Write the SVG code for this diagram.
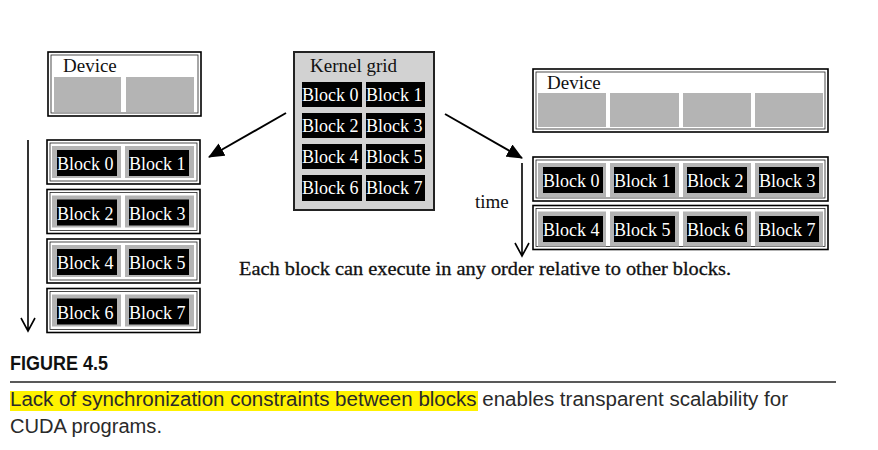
<svg xmlns="http://www.w3.org/2000/svg" width="878" height="450" viewBox="0 0 878 450">
<style>
.frame{fill:#fff;stroke:#000;stroke-width:1.6}
.inner{fill:none;stroke:#222;stroke-width:0.8}
.cell{fill:#b4b4b4}
.blk{fill:#000}
.bt{font-family:"Liberation Serif","Times New Roman",serif;font-size:18px;fill:#fff}
.lbl{font-family:"Liberation Serif","Times New Roman",serif;font-size:19px;fill:#111}
.cap{font-family:"Liberation Sans Narrow","Liberation Sans",Arial,sans-serif;font-size:20px;fill:#2a2a2a}
.conn{stroke:#000;stroke-width:2;fill:none}
.time{stroke:#000;stroke-width:1.6;fill:none}
</style>
<defs>
<marker id="ah" markerWidth="16" markerHeight="14" refX="15" refY="7" orient="auto" markerUnits="userSpaceOnUse">
<path d="M0,0 L16,7 L0,14 Z" fill="#000"/>
</marker>
</defs>

<!-- Left device -->
<g id="left-device">
<rect class="frame" x="48" y="52" width="153" height="64"/>
<rect class="inner" x="51" y="55" width="147" height="58"/>
<text class="lbl" x="63" y="72">Device</text>
<rect class="cell" x="54" y="77" width="67" height="35"/>
<rect class="cell" x="126" y="77" width="68" height="35"/>
</g>

<!-- Left rows -->
<g id="left-row-1">
<rect class="frame" x="47" y="140" width="153" height="44"/>
<rect class="inner" x="50" y="143" width="147" height="38"/>
<rect class="cell" x="52" y="146" width="69" height="32"/>
<rect class="cell" x="125" y="146" width="69" height="32"/>
<rect class="blk" x="57" y="150" width="60" height="26"/>
<rect class="blk" x="129" y="150" width="60" height="26"/>
<text class="bt" x="57" y="170">Block 0</text>
<text class="bt" x="129" y="170">Block 1</text>
</g>
<g id="left-row-2">
<rect class="frame" x="47" y="189.5" width="153" height="44"/>
<rect class="inner" x="50" y="192.5" width="147" height="38"/>
<rect class="cell" x="52" y="195.5" width="69" height="32"/>
<rect class="cell" x="125" y="195.5" width="69" height="32"/>
<rect class="blk" x="57" y="199.5" width="60" height="26"/>
<rect class="blk" x="129" y="199.5" width="60" height="26"/>
<text class="bt" x="57" y="219.5">Block 2</text>
<text class="bt" x="129" y="219.5">Block 3</text>
</g>
<g id="left-row-3">
<rect class="frame" x="47" y="239" width="153" height="44"/>
<rect class="inner" x="50" y="242" width="147" height="38"/>
<rect class="cell" x="52" y="245" width="69" height="32"/>
<rect class="cell" x="125" y="245" width="69" height="32"/>
<rect class="blk" x="57" y="249" width="60" height="26"/>
<rect class="blk" x="129" y="249" width="60" height="26"/>
<text class="bt" x="57" y="269">Block 4</text>
<text class="bt" x="129" y="269">Block 5</text>
</g>
<g id="left-row-4">
<rect class="frame" x="47" y="288.5" width="153" height="44"/>
<rect class="inner" x="50" y="291.5" width="147" height="38"/>
<rect class="cell" x="52" y="294.5" width="69" height="32"/>
<rect class="cell" x="125" y="294.5" width="69" height="32"/>
<rect class="blk" x="57" y="298.5" width="60" height="26"/>
<rect class="blk" x="129" y="298.5" width="60" height="26"/>
<text class="bt" x="57" y="318.5">Block 6</text>
<text class="bt" x="129" y="318.5">Block 7</text>
</g>

<!-- Kernel grid -->
<g id="kernel-grid">
<rect x="294" y="52" width="140" height="158" fill="#d2d2d2" stroke="#222" stroke-width="2"/>
<text class="lbl" x="310" y="72">Kernel grid</text>
<rect class="blk" x="302" y="82" width="60" height="25"/>
<rect class="blk" x="366" y="82" width="59" height="25"/>
<rect class="blk" x="302" y="113" width="60" height="25"/>
<rect class="blk" x="366" y="113" width="59" height="25"/>
<rect class="blk" x="302" y="144" width="60" height="25"/>
<rect class="blk" x="366" y="144" width="59" height="25"/>
<rect class="blk" x="302" y="175" width="60" height="26"/>
<rect class="blk" x="366" y="175" width="59" height="26"/>
<text class="bt" x="302" y="101">Block 0</text>
<text class="bt" x="366" y="101">Block 1</text>
<text class="bt" x="302" y="132">Block 2</text>
<text class="bt" x="366" y="132">Block 3</text>
<text class="bt" x="302" y="163">Block 4</text>
<text class="bt" x="366" y="163">Block 5</text>
<text class="bt" x="302" y="194">Block 6</text>
<text class="bt" x="366" y="194">Block 7</text>
</g>

<!-- Right device -->
<g id="right-device">
<rect class="frame" x="533" y="69" width="295" height="63"/>
<rect class="inner" x="536" y="72" width="289" height="57"/>
<text class="lbl" x="547" y="89">Device</text>
<rect class="cell" x="538" y="93" width="68" height="34"/>
<rect class="cell" x="610" y="93" width="69" height="34"/>
<rect class="cell" x="683" y="93" width="68" height="34"/>
<rect class="cell" x="755" y="93" width="68" height="34"/>
</g>

<g id="right-row-1">
<rect class="frame" x="533" y="157" width="295" height="44"/>
<rect class="inner" x="536" y="160" width="289" height="38"/>
<rect class="cell" x="538" y="163" width="68" height="34"/>
<rect class="cell" x="610" y="163" width="69" height="34"/>
<rect class="cell" x="683" y="163" width="68" height="34"/>
<rect class="cell" x="755" y="163" width="68" height="34"/>
<rect class="blk" x="543" y="167" width="60" height="26"/>
<rect class="blk" x="614" y="167" width="61" height="26"/>
<rect class="blk" x="687" y="167" width="60" height="26"/>
<rect class="blk" x="759" y="167" width="60" height="26"/>
<text class="bt" x="543" y="187">Block 0</text>
<text class="bt" x="614" y="187">Block 1</text>
<text class="bt" x="687" y="187">Block 2</text>
<text class="bt" x="759" y="187">Block 3</text>
</g>
<g id="right-row-2">
<rect class="frame" x="533" y="205.5" width="295" height="44"/>
<rect class="inner" x="536" y="208.5" width="289" height="38"/>
<rect class="cell" x="538" y="211.5" width="68" height="35"/>
<rect class="cell" x="610" y="211.5" width="69" height="35"/>
<rect class="cell" x="683" y="211.5" width="68" height="35"/>
<rect class="cell" x="755" y="211.5" width="68" height="35"/>
<rect class="blk" x="543" y="216" width="60" height="26"/>
<rect class="blk" x="614" y="216" width="61" height="26"/>
<rect class="blk" x="687" y="216" width="60" height="26"/>
<rect class="blk" x="759" y="216" width="60" height="26"/>
<text class="bt" x="543" y="236">Block 4</text>
<text class="bt" x="614" y="236">Block 5</text>
<text class="bt" x="687" y="236">Block 6</text>
<text class="bt" x="759" y="236">Block 7</text>
</g>

<!-- Connectors -->
<g id="connectors">
<line class="conn" x1="286" y1="113" x2="209" y2="157" marker-end="url(#ah)"/>
<line class="conn" x1="445" y1="114" x2="522" y2="158" marker-end="url(#ah)"/>
<path class="time" d="M28,140 V331 M21,318 L28,331 L35,318"/>
<path class="time" d="M522,163 V256 M515,243 L522,256 L529,243"/>
</g>

<text class="lbl" x="475" y="208">time</text>
<text class="lbl" x="239" y="275" textLength="492" lengthAdjust="spacingAndGlyphs" stroke="#111" stroke-width="0.3">Each block can execute in any order relative to other blocks.</text>

<!-- Caption -->
<text x="10" y="370" font-family="'Liberation Sans Narrow','Liberation Sans',Arial,sans-serif" font-size="20" font-weight="bold" fill="#111" textLength="98" lengthAdjust="spacingAndGlyphs">FIGURE 4.5</text>
<line x1="10" y1="382" x2="836" y2="382" stroke="#222" stroke-width="1.6"/>
<rect x="10" y="391" width="468" height="20" fill="#fff200"/>
<text class="cap" x="10" y="406" textLength="778" lengthAdjust="spacingAndGlyphs">Lack of synchronization constraints between blocks enables transparent scalability for</text>
<text class="cap" x="10" y="433" textLength="152" lengthAdjust="spacingAndGlyphs">CUDA programs.</text>
</svg>
